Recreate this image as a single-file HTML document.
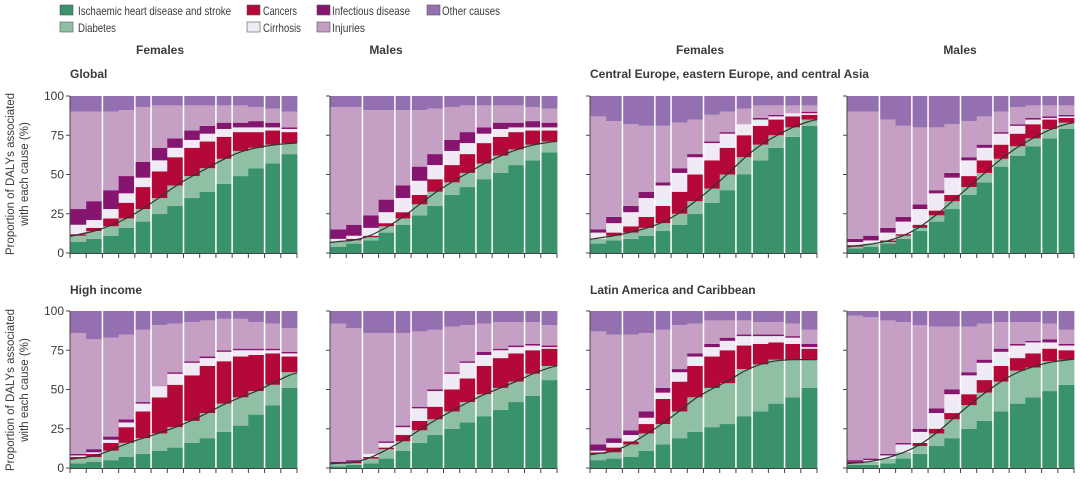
<!DOCTYPE html>
<html><head><meta charset="utf-8"><style>
body{margin:0;background:#fff;width:1080px;height:493px;overflow:hidden;font-family:"Liberation Sans",sans-serif;}
svg text{font-family:"Liberation Sans",sans-serif;fill:#3a3a3a;}
</style></head><body>
<svg id="chart" width="1080" height="493" viewBox="0 0 1080 493" xmlns="http://www.w3.org/2000/svg">
<g id="legend" font-size="12">
 <g><rect x="60" y="5" width="13" height="10" fill="#3a926d" stroke="#555" stroke-width="0.6"/><text x="78" y="15" textLength="153" lengthAdjust="spacingAndGlyphs">Ischaemic heart disease and stroke</text></g>
 <g><rect x="60" y="22" width="13" height="10" fill="#8fc0a4" stroke="#555" stroke-width="0.6"/><text x="78" y="32" textLength="38" lengthAdjust="spacingAndGlyphs">Diabetes</text></g>
 <g><rect x="247" y="5" width="13" height="10" fill="#b30838" stroke="#555" stroke-width="0.6"/><text x="263" y="15" textLength="34" lengthAdjust="spacingAndGlyphs">Cancers</text></g>
 <g><rect x="247" y="22" width="13" height="10" fill="#efeaf4" stroke="#555" stroke-width="0.6"/><text x="263" y="32" textLength="38" lengthAdjust="spacingAndGlyphs">Cirrhosis</text></g>
 <g><rect x="317" y="5" width="13" height="10" fill="#85156f" stroke="#555" stroke-width="0.6"/><text x="332" y="15" textLength="78" lengthAdjust="spacingAndGlyphs">Infectious disease</text></g>
 <g><rect x="317" y="22" width="13" height="10" fill="#c59fc4" stroke="#555" stroke-width="0.6"/><text x="332" y="32" textLength="33" lengthAdjust="spacingAndGlyphs">Injuries</text></g>
 <g><rect x="427" y="5" width="13" height="10" fill="#9470b0" stroke="#555" stroke-width="0.6"/><text x="442" y="15" textLength="58" lengthAdjust="spacingAndGlyphs">Other causes</text></g>
</g>
<g font-size="12" font-weight="bold" text-anchor="middle">
 <text x="160" y="54">Females</text>
 <text x="386" y="54">Males</text>
 <text x="700" y="54">Females</text>
 <text x="960" y="54">Males</text>
</g>
<g font-size="12" font-weight="bold">
 <text x="70" y="78">Global</text>
 <text x="590" y="78">Central Europe, eastern Europe, and central Asia</text>
 <text x="70" y="294">High income</text>
 <text x="590" y="294">Latin America and Caribbean</text>
</g>
<g font-size="11.5" text-anchor="middle">
 <text transform="translate(14,174) rotate(-90)">Proportion of DALYs associated</text>
 <text transform="translate(28,174) rotate(-90)">with each cause (%)</text>
 <text transform="translate(14,390) rotate(-90)">Proportion of DALYs associated</text>
 <text transform="translate(28,390) rotate(-90)">with each cause (%)</text>
</g>
<g id="panels"></g>
</svg>
<script>
const yTicks=[0,25,50,75,100];
const colors=["#3a926d","#8fc0a4","#b30838","#efeaf4","#85156f","#c59fc4","#9470b0"];
const causes=["ihd","diabetes","cancers","cirrhosis","infectious","injuries","other"];
// cumulative tops (%) per age group, 14 groups
const globalF_ihd=[7,9,11,16,20,25,30,35,39,44,49,54,57,63];
const globalF_dia=[11,14,17,22,28,35,43,49,54,60,65,67,69,70];
const globalF_can=[12,16,22,32,42,52,61,67,71,74,77,77,78,77];
const globalF_cir=[18,21,28,38,48,59,67,72,76,79,80,80,80,79];
const globalF_inf=[28,33,40,49,58,67,73,78,81,83,83,84,83,80];
const globalF_inj=[90,90,90,91,93,94,94,94,94,94,94,93,92,90];
const globalM_ihd=[4,6,8,13,18,24,30,37,42,47,51,56,59,64];
const globalM_dia=[7,8,10,17,22,31,39,45,51,57,62,66,69,71];
const globalM_can=[7,9,11,19,26,37,47,56,63,70,74,77,78,78];
const globalM_cir=[9,11,16,26,35,46,56,65,70,76,79,80,80,80];
const globalM_inf=[15,18,24,34,43,55,63,72,77,80,83,83,84,83];
const globalM_inj=[93,93,91,91,91,91,92,93,94,94,94,94,93,92];
const ceeF_ihd=[6,8,9,11,14,18,25,32,40,50,59,67,74,81];
const ceeF_dia=[9,11,13,16,19,25,33,41,50,61,69,75,80,85];
const ceeF_can=[9,13,17,23,30,39,50,59,67,75,81,85,87,88];
const ceeF_cir=[13,19,26,35,43,51,61,70,76,82,85,87,89,89];
const ceeF_inf=[15,23,30,39,45,54,63,71,77,82,86,88,89,90];
const ceeF_inj=[87,84,82,81,81,83,85,88,90,92,94,94,94,94];
const ceeM_ihd=[3,4,6,9,14,20,28,37,45,55,62,68,73,79];
const ceeM_dia=[4,6,7,11,16,24,33,42,51,60,68,73,79,83];
const ceeM_can=[5,6,8,12,18,27,37,49,59,69,76,82,85,86];
const ceeM_cir=[7,8,13,20,28,38,48,59,67,76,81,85,86,87];
const ceeM_inf=[9,11,16,23,31,40,51,61,69,77,82,86,87,88];
const ceeM_inj=[90,90,85,81,80,80,82,84,87,90,93,94,94,94];
const hiF_ihd=[3,4,5,7,9,11,13,16,19,23,27,34,40,51];
const hiF_dia=[6,7,11,16,19,22,26,30,35,41,45,49,53,61];
const hiF_can=[7,9,16,26,36,45,53,59,65,68,71,72,73,71];
const hiF_cir=[8,10,18,29,41,52,60,67,70,74,75,75,75,73];
const hiF_inf=[9,12,20,31,42,52,61,68,71,75,76,76,76,74];
const hiF_inj=[86,82,83,85,88,91,92,93,94,95,95,93,92,89];
const hiM_ihd=[1,2,3,6,11,16,21,25,29,33,37,42,46,56];
const hiM_dia=[3,3,6,12,17,24,31,36,42,47,51,55,60,65];
const hiM_can=[3,4,7,13,21,30,39,50,57,65,70,73,75,76];
const hiM_cir=[3,4,9,16,26,38,49,60,67,72,75,77,78,77];
const hiM_inf=[4,5,9,17,27,39,50,61,68,74,76,78,79,78];
const hiM_inj=[92,89,86,86,86,87,88,90,91,92,93,93,93,91];
const laF_ihd=[5,6,7,11,15,19,23,26,28,33,36,41,45,51];
const laF_dia=[9,10,15,22,28,36,45,51,54,63,66,69,69,69];
const laF_can=[10,13,17,28,44,55,65,71,75,78,79,80,79,76];
const laF_cir=[11,16,21,32,48,61,71,77,81,84,84,84,83,77];
const laF_inf=[15,19,24,36,51,63,73,79,83,85,85,85,84,79];
const laF_inj=[87,85,85,86,88,91,92,94,94,94,93,93,92,88];
const laM_ihd=[2,2,3,6,9,14,19,25,30,36,41,45,49,53];
const laM_dia=[3,4,6,10,14,22,31,40,48,55,62,64,68,69];
const laM_can=[4,4,6,10,16,25,35,47,56,65,70,73,76,75];
const laM_cir=[4,5,8,15,23,35,47,59,67,74,78,80,80,78];
const laM_inf=[5,6,9,16,25,38,50,61,69,76,79,81,82,79];
const laM_inj=[97,96,94,93,91,90,90,90,92,93,93,93,92,88];

const NS="http://www.w3.org/2000/svg";
const root=document.getElementById('panels');
function mk(tag,attrs,parent){const e=document.createElementNS(NS,tag);for(const k in attrs)e.setAttribute(k,attrs[k]);parent.appendChild(e);return e;}
const panels=[
 {id:"global-females",x:70,y0:253,s:[globalF_ihd,globalF_dia,globalF_can,globalF_cir,globalF_inf,globalF_inj],tl:true},
 {id:"global-males",x:330,y0:253,s:[globalM_ihd,globalM_dia,globalM_can,globalM_cir,globalM_inf,globalM_inj]},
 {id:"cee-females",x:590,y0:253,s:[ceeF_ihd,ceeF_dia,ceeF_can,ceeF_cir,ceeF_inf,ceeF_inj]},
 {id:"cee-males",x:847,y0:253,s:[ceeM_ihd,ceeM_dia,ceeM_can,ceeM_cir,ceeM_inf,ceeM_inj]},
 {id:"high-income-females",x:70,y0:468,s:[hiF_ihd,hiF_dia,hiF_can,hiF_cir,hiF_inf,hiF_inj],tl:true},
 {id:"high-income-males",x:330,y0:468,s:[hiM_ihd,hiM_dia,hiM_can,hiM_cir,hiM_inf,hiM_inj]},
 {id:"latam-females",x:590,y0:468,s:[laF_ihd,laF_dia,laF_can,laF_cir,laF_inf,laF_inj]},
 {id:"latam-males",x:847,y0:468,s:[laM_ihd,laM_dia,laM_can,laM_cir,laM_inf,laM_inj]}
];
const W=227,H=157,N=14,bw=W/N;
const seps=[2,4,5,7,9,10,12,13];
panels.forEach(p=>{
 const g=mk('g',{},root);
 
 
 const yS=v=>p.y0-v/100*H;
 const xS=i=>p.x+i*bw;
 for(let i=0;i<N;i++){
  let prev=0;
  const tops=p.s.map(a=>a[i]).concat([100]);
  tops.forEach((t,k)=>{
   const top=Math.max(t,prev);
   const r=mk('rect',{x:xS(i).toFixed(2),y:yS(top).toFixed(2),width:(bw+0.4).toFixed(2),height:(Math.max(0,top-prev)/100*H).toFixed(2),fill:colors[k]},g);
   
   
   prev=top;
  });
 }
 seps.forEach(b=>{const l=mk('line',{x1:xS(b),x2:xS(b),y1:p.y0-H,y2:p.y0,stroke:'#fff','stroke-width':1.5},g);
  });
 const d=p.s[1];
 const sm=d.map((v,i)=>0.25*d[Math.max(0,i-1)]+0.5*v+0.25*d[Math.min(N-1,i+1)]);
 const pts=[[xS(0),yS(sm[0]-(sm[1]-sm[0])*0.5)]].concat(sm.map((v,i)=>[xS(i+0.5),yS(v)])).concat([[xS(N),yS(sm[N-1]+(sm[N-1]-sm[N-2])*0.3)]]);
 let path='M'+pts[0][0].toFixed(1)+','+pts[0][1].toFixed(1);
 for(let i=0;i<pts.length-1;i++){
  const p0=pts[Math.max(0,i-1)],p1=pts[i],p2=pts[i+1],p3=pts[Math.min(pts.length-1,i+2)];
  const c1=[p1[0]+(p2[0]-p0[0])/6,p1[1]+(p2[1]-p0[1])/6],c2=[p2[0]-(p3[0]-p1[0])/6,p2[1]-(p3[1]-p1[1])/6];
  path+=' C'+c1.map(v=>v.toFixed(1))+' '+c2.map(v=>v.toFixed(1))+' '+p2.map(v=>v.toFixed(1));
 }
 const tl=mk('path',{d:path,fill:'none',stroke:'#333','stroke-width':1.2},g);
 
 
 const ya=mk('line',{x1:p.x,x2:p.x,y1:p.y0-H,y2:p.y0+1,stroke:'#444','stroke-width':1},g);
 
 const xa=mk('line',{x1:p.x,x2:p.x+W,y1:p.y0+0.5,y2:p.y0+0.5,stroke:'#444','stroke-width':1},g);
 
 for(let i=0;i<=N;i++){const t=mk('line',{x1:xS(i),x2:xS(i),y1:p.y0,y2:p.y0+5,stroke:'#444','stroke-width':1},g);
  }
 yTicks.forEach(v=>{
  const t=mk('line',{x1:p.x-4,x2:p.x,y1:yS(v),y2:yS(v),stroke:'#444','stroke-width':1},g);
  
  if(p.tl){const tx=mk('text',{x:p.x-6,y:yS(v)+4,'font-size':12,'text-anchor':'end'},g);tx.textContent=v;
   }
 });
});
</script>
</body></html>
